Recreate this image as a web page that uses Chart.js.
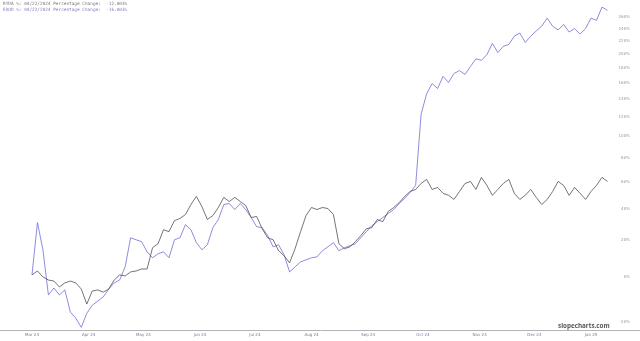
<!DOCTYPE html>
<html>
<head>
<meta charset="utf-8">
<script src="https://cdn.jsdelivr.net/npm/chart.js@4"></script>
<style>
  html, body { margin: 0; padding: 0; background: #fff; }
  #wrap { position: relative; width: 640px; height: 341px; }
  .legend { position: absolute; left: 3px; top: 1px; font: 4.4px "DejaVu Sans Mono", monospace; line-height: 6px; white-space: pre; }
  .brand { position: absolute; left: 558px; top: 321px; font: bold 6.3px "Open Sans", sans-serif; color: #555; }
</style>
</head>
<body>
<div id="wrap">
  <canvas id="chart" width="640" height="341"></canvas>
  <div class="legend"><div style="color:#777">RYDA %: 04/22/2024 Percentage Change:  -12.003%</div><div style="color:#8080c4">EXOD %: 04/22/2024 Percentage Change:  -16.003%</div></div>
  <div class="brand">slopecharts.com</div>
</div>
<script>
// days since Mar 1 2024
const days = [0, 3, 6, 9, 12, 15, 18, 21, 24, 27, 30, 33, 36, 39, 42, 45, 48, 51, 54, 57,
  60, 63, 66, 69, 72, 75, 78, 81, 84, 87, 90, 93, 96, 99, 102, 105, 108, 111, 114, 117,
  120, 123, 126, 129, 132, 135, 138, 141, 144, 147, 150, 153, 156, 159, 162, 165, 168, 171, 174, 177,
  180, 183, 186, 189, 192, 195, 198, 201, 204, 207, 210, 213, 216, 219, 222, 225, 228, 231, 234, 237,
  240, 243, 246, 249, 252, 255, 258, 261, 264, 267, 270, 273, 276, 279, 282, 285, 288, 291, 294, 297,
  300, 303, 306, 309, 312, 315];

// percent change
const bluePct = [1.0, 30.7, 14.3, -8.5, -5.3, -8.5, -6.2, -15.9, -18.4, -22,
  -16.4, -13, -11.2, -9.4, -5.8, -2.9, -1.5, 5.1, 21.3, 20.1,
  19.0, 13.2, 9.9, 12.1, 13.2, 9.9, 20.1, 21.3, 29.4, 26.2,
  18.4, 14.3, 17.2, 27.5, 32.7, 42.9, 43.6, 39.4, 43.6, 39.4,
  34, 28.1, 27.5, 22.6, 16.0, 17.2, 11.5, 2.5, 5.1, 7.7,
  8.8, 9.9, 10.4, 13.8, 16.0, 18.4, 13.8, 15.5, 16.6, 17.8,
  21.3, 25.0, 28.7, 31.3, 34, 36.7, 39.4, 43.6, 47.3, 51.7,
  57, 123, 146.4, 159.4, 153, 168.6, 160.7, 172.5, 176.4, 171.2,
  182, 193, 190.7, 199, 216, 202, 211.5, 214.5, 227.5, 232.6,
  217.6, 227.5, 236, 244, 258, 244, 237.7, 247, 234.3, 240,
  231, 240, 258, 254, 278, 272];

const grayPct = [1.0, 3.0, 0, -1.5, -2, -4.8, -2.9, -2, -2.9, -5.8,
  -12.5, -6.7, -6.2, -7.2, -5.8, -1.5, 1.0, 0.5, 2.5, 3.0,
  4.0, 4.0, 15.5, 17.8, 26.2, 25.0, 32.0, 33.4, 36.0, 42.9,
  48.7, 41.5, 32.7, 35.3, 40.8, 48.0, 45.0, 48.0, 45.0, 42.2,
  34, 34.7, 26.8, 21.3, 20.1, 13.8, 11, 7.2, 14.9, 25,
  35.3, 40.8, 39.4, 40.8, 40.1, 36, 17.8, 14.9, 16.0, 19.0,
  22.6, 26.8, 27.5, 32.7, 31.3, 38.1, 40.8, 44.3, 48.7, 52.4,
  53.9, 58.5, 61.7, 53.9, 55.4, 51.0, 49.5, 46.5, 52.4, 58.5,
  60.1, 53.9, 63.3, 57, 49.5, 53.9, 58.5, 61.7, 51, 46.5,
  49.5, 53.9, 48, 42.9, 46.5, 52.4, 60.1, 57, 49.5, 55.4,
  51, 46.5, 52.4, 57, 63.3, 60.1];

const monthDays = [0, 31, 61, 92, 122, 153, 184, 214, 245, 275, 306];
const monthLabels = ["Mar 24", "Apr 24", "May 24", "Jun 24", "Jul 24", "Aug 24", "Sep 24", "Oct 24", "Nov 24", "Dec 24", "Jan 25"];
const yTickPct = [-20, 0, 20, 40, 60, 80, 100, 120, 140, 160, 180, 200, 220, 240, 260];

// log scale on (100 + pct)
const toPoints = (vals) => vals.map((p, i) => ({ x: days[i], y: 100 + p }));

new Chart(document.getElementById("chart"), {
  type: "line",
  data: {
    datasets: [
      { data: toPoints(grayPct), borderColor: "#505050", borderWidth: 0.8, pointRadius: 0, tension: 0 },
      { data: toPoints(bluePct), borderColor: "#6e6ed8", borderWidth: 0.8, pointRadius: 0, tension: 0 },
    ],
  },
  options: {
    responsive: false,
    animation: false,
    layout: { padding: 0 },
    plugins: { legend: { display: false }, tooltip: { enabled: false } },
    scales: {
      x: {
        type: "linear",
        min: -17.5,
        max: 332.8,
        grid: { display: false, drawTicks: false },
        border: { display: true, color: "#b4b4b4", width: 1 },
        afterBuildTicks: (s) => { s.ticks = monthDays.map((v) => ({ value: v })); },
        afterFit: (s) => { s.height = 11; },
        ticks: {
          autoSkip: false,
          maxRotation: 0,
          padding: 3,
          font: { size: 4, family: "DejaVu Sans" },
          color: "#7a7a9e",
          callback: (v) => monthLabels[monthDays.indexOf(v)],
        },
      },
      y: {
        type: "logarithmic",
        position: "right",
        min: 77,
        max: 391.4,
        grid: { display: false, drawTicks: false },
        border: { display: false },
        afterBuildTicks: (s) => { s.ticks = yTickPct.map((p) => ({ value: 100 + p })); },
        afterFit: (s) => { s.width = 0; },
        ticks: {
          mirror: true,
          padding: -10,
          font: { size: 4, family: "DejaVu Sans" },
          color: "#999",
          callback: (v) => Math.round(v - 100) + "%",
        },
      },
    },
  },
});
</script>
</body>
</html>
